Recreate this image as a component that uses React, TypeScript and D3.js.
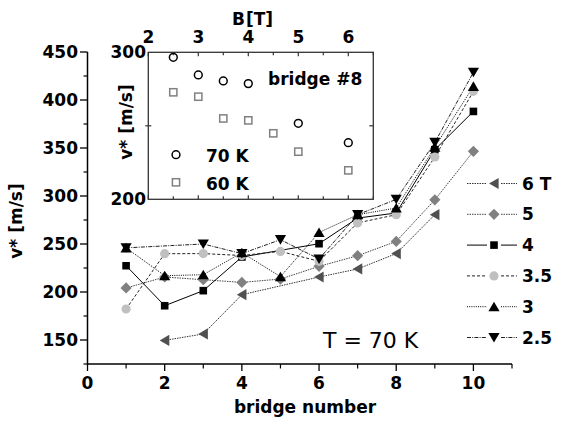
import React from "react";
import * as d3 from "d3";

const bridges = [1, 2, 3, 4, 5, 6, 7, 8, 9, 10];
const v6T: (number | null)[] = [null, 149.6, 156.3, 197.2, null, 215.6, 224, 240, 280.5, null];
const v5T: (number | null)[] = [204.2, 215.6, 212.8, 210, 213.5, 226.7, 237.8, 252.7, 296, 346.5];
const v4T: (number | null)[] = [227.4, 185.7, 201.4, 236.5, null, 250.3, 277, 282.3, 348.2, 388.1];
const v35T: (number | null)[] = [182.3, 239.9, 240, 238, 242.3, 232, 272, 280.5, 340.6, 409];
const v3T: (number | null)[] = [246, 217, 218, 241, 216, 262, 280.5, 287.5, 351, 414.2];
const v25T: (number | null)[] = [246, null, 250, 240, 254.5, 234.4, 280.5, 296.5, 355.8, 428.8];
const seriesLabels = ["6 T", "5", "4", "3.5", "3", "2.5"];

const insetB70 = [2.5, 3, 3.5, 4, 5, 6];
const insetV70 = [296.6, 284.6, 280.5, 278.7, 251.7, 238.5];
const insetB60 = [2.5, 3, 3.5, 4, 4.5, 5, 6];
const insetV60 = [272.8, 269.8, 255, 253.7, 244.9, 232.4, 219.7];

const mainYTicks = [150, 200, 250, 300, 350, 400, 450];
const mainYMinor = [125, 175, 225, 275, 325, 375, 425];
const mainXTicks = [0, 2, 4, 6, 8, 10];
const mainXMinor = [1, 3, 5, 7, 9, 11];
const insetXTicks = [2, 3, 4, 5, 6];
const insetXMinor = [2.5, 3.5, 4.5, 5.5, 6.5];

type Mk = "left" | "diamond" | "square" | "circle" | "up" | "down";

function markerPath(t: Mk, cx: number, cy: number): string {
  const p = d3.path();
  if (t === "square") {
    const s = 3.8;
    p.rect(cx - s, cy - s, 2 * s, 2 * s);
  } else if (t === "circle") {
    p.arc(cx, cy, 4.6, 0, Math.PI * 2);
  } else if (t === "diamond") {
    const s = 5.6;
    p.moveTo(cx, cy - s); p.lineTo(cx + s, cy); p.lineTo(cx, cy + s); p.lineTo(cx - s, cy); p.closePath();
  } else if (t === "up") {
    p.moveTo(cx, cy - 5); p.lineTo(cx + 5.6, cy + 4.6); p.lineTo(cx - 5.6, cy + 4.6); p.closePath();
  } else if (t === "down") {
    p.moveTo(cx, cy + 5); p.lineTo(cx + 5.6, cy - 4.6); p.lineTo(cx - 5.6, cy - 4.6); p.closePath();
  } else {
    p.moveTo(cx - 5, cy); p.lineTo(cx + 4.6, cy - 5.6); p.lineTo(cx + 4.6, cy + 5.6); p.closePath();
  }
  return p.toString();
}

const seriesValues = [v6T, v5T, v4T, v35T, v3T, v25T];
const seriesMarkers: Mk[] = ["left", "diamond", "square", "circle", "up", "down"];
const seriesFill = ["#505050", "#808080", "#000000", "#c0c0c0", "#000000", "#000000"];
const seriesDash = ["1.5,1", "1.5,1", "none", "3,2", "1,1.2", "4,1.2,1,1.2"];
const seriesStroke = ["#333", "#444", "#000", "#222", "#000", "#222"];

export default function App() {
  const W = 565, H = 423;
  const x = d3.scaleLinear().domain([0, 11]).range([87.5, 512]);
  const y = d3.scaleLinear().domain([125, 450]).range([364, 52]);
  const ix = d3.scaleLinear().domain([2, 6.5]).range([148.3, 373.3]);
  const iy = d3.scaleLinear().domain([200, 300]).range([199.3, 52.3]);
  const font = "'DejaVu Sans', Verdana, sans-serif";

  const line = d3.line<[number, number]>().x((d) => x(d[0])).y((d) => y(d[1]));

  const legendY0 = 183.5, legendStep = 30.8;

  return (
    <svg width={W} height={H} style={{ position: "absolute", left: 0, top: 0, background: "#fff" }} fontFamily={font}>
      <rect x={0} y={0} width={W} height={H} fill="#fff" />
      {/* main axes */}
      <line x1={x(0)} x2={x(11)} y1={364} y2={364} stroke="#000" strokeWidth={1.5} />
      <line x1={87.5} x2={87.5} y1={364} y2={y(450)} stroke="#000" strokeWidth={1.5} />
      {mainYTicks.map((t) => (
        <g key={"yt" + t}>
          <line x1={80} x2={87.5} y1={y(t)} y2={y(t)} stroke="#000" strokeWidth={1.3} />
          <text x={78} y={y(t) + 6} textAnchor="end" fontSize={17} fontWeight="bold">{t}</text>
        </g>
      ))}
      {mainYMinor.map((t) => (
        <line key={"ym" + t} x1={83.5} x2={87.5} y1={y(t)} y2={y(t)} stroke="#000" strokeWidth={1.2} />
      ))}
      {mainXTicks.map((t) => (
        <g key={"xt" + t}>
          <line x1={x(t)} x2={x(t)} y1={364} y2={371} stroke="#000" strokeWidth={1.3} />
          <text x={x(t)} y={389} textAnchor="middle" fontSize={17} fontWeight="bold">{t}</text>
        </g>
      ))}
      {mainXMinor.map((t) => (
        <line key={"xm" + t} x1={x(t)} x2={x(t)} y1={364} y2={368.5} stroke="#000" strokeWidth={1.2} />
      ))}
      <text x={305} y={413} textAnchor="middle" fontSize={17} fontWeight="bold">bridge number</text>
      <text transform="translate(22,221) rotate(-90)" textAnchor="middle" fontSize={17} fontWeight="bold">v* [m/s]</text>

      {/* series lines */}
      {seriesValues.map((vals, si) => {
        const pts: [number, number][] = [];
        vals.forEach((v, i) => { if (v !== null) pts.push([bridges[i], v]); });
        return (
          <path key={"l" + si} d={line(pts) || ""} fill="none" stroke={seriesStroke[si]} strokeWidth={1}
            strokeDasharray={seriesDash[si]} />
        );
      })}
      {/* markers */}
      {seriesValues.map((vals, si) => (
        <g key={"m" + si}>
          {vals.map((v, i) => v === null ? null : (
            <path key={i} d={markerPath(seriesMarkers[si], x(bridges[i]), y(v))} fill={seriesFill[si]} stroke="none" />
          ))}
        </g>
      ))}

      {/* legend */}
      {seriesLabels.map((lab, si) => {
        const cy = legendY0 + si * legendStep;
        return (
          <g key={"lg" + si}>
            <line x1={467} x2={487} y1={cy} y2={cy} stroke={seriesStroke[si]} strokeWidth={1} strokeDasharray={seriesDash[si]} />
            <path d={markerPath(seriesMarkers[si], 494, cy)} fill={seriesFill[si]} />
            <line x1={501} x2={517} y1={cy} y2={cy} stroke={seriesStroke[si]} strokeWidth={1} strokeDasharray={seriesDash[si]} />
            <text x={522} y={cy + 6} fontSize={17} fontWeight="bold">{lab}</text>
          </g>
        );
      })}

      <text x={323} y={348} fontSize={22}>T = 70 K</text>

      {/* inset */}
      <rect x={ix(2)} y={iy(300)} width={ix(6.5) - ix(2)} height={iy(200) - iy(300)} fill="#fff" stroke="#333" strokeWidth={1.3} />
      {insetXTicks.map((t) => (
        <g key={"it" + t}>
          <line x1={ix(t)} x2={ix(t)} y1={iy(300)} y2={iy(300) + 4} stroke="#333" strokeWidth={1.2} />
          <line x1={ix(t)} x2={ix(t)} y1={iy(200)} y2={iy(200) - 4} stroke="#333" strokeWidth={1.2} />
          <text x={ix(t)} y={43} textAnchor="middle" fontSize={17} fontWeight="bold">{t}</text>
        </g>
      ))}
      {insetXMinor.map((t) => (
        <g key={"im" + t}>
          <line x1={ix(t)} x2={ix(t)} y1={iy(300)} y2={iy(300) + 3} stroke="#333" strokeWidth={1.2} />
          <line x1={ix(t)} x2={ix(t)} y1={iy(200)} y2={iy(200) - 3} stroke="#333" strokeWidth={1.2} />
        </g>
      ))}
      <line x1={ix(2) - 3} x2={ix(2) + 3} y1={iy(250)} y2={iy(250)} stroke="#333" strokeWidth={1.2} />
      <line x1={ix(6.5) - 4} x2={ix(6.5)} y1={iy(250)} y2={iy(250)} stroke="#333" strokeWidth={1.2} />
      {[200, 300].map((t) => (
        <text key={"iyt" + t} x={146} y={iy(t) + 6} textAnchor="end" fontSize={17} fontWeight="bold">{t}</text>
      ))}
      <text transform="translate(132,122) rotate(-90)" textAnchor="middle" fontSize={17} fontWeight="bold">v* [m/s]</text>
      <text x={232} y={25} fontSize={17} fontWeight="bold">B</text>
      <text x={246} y={25} fontSize={17} fontWeight="bold">[T]</text>

      {insetB70.map((b, i) => (
        <circle key={"c70" + i} cx={ix(b)} cy={iy(insetV70[i])} r={3.9} fill="none" stroke="#000" strokeWidth={1.5} />
      ))}
      {insetB60.map((b, i) => (
        <rect key={"s60" + i} x={ix(b) - 3.6} y={iy(insetV60[i]) - 3.6} width={7.2} height={7.2} fill="none" stroke="#808080" strokeWidth={1.5} />
      ))}
      <text x={268} y={85} fontSize={17} fontWeight="bold">bridge #8</text>
      <circle cx={176} cy={154.7} r={3.9} fill="none" stroke="#000" strokeWidth={1.5} />
      <text x={206} y={161.5} fontSize={17} fontWeight="bold">70 K</text>
      <rect x={176 - 3.6} y={182.3 - 3.6} width={7.2} height={7.2} fill="none" stroke="#808080" strokeWidth={1.5} />
      <text x={206} y={189.5} fontSize={17} fontWeight="bold">60 K</text>
    </svg>
  );
}
